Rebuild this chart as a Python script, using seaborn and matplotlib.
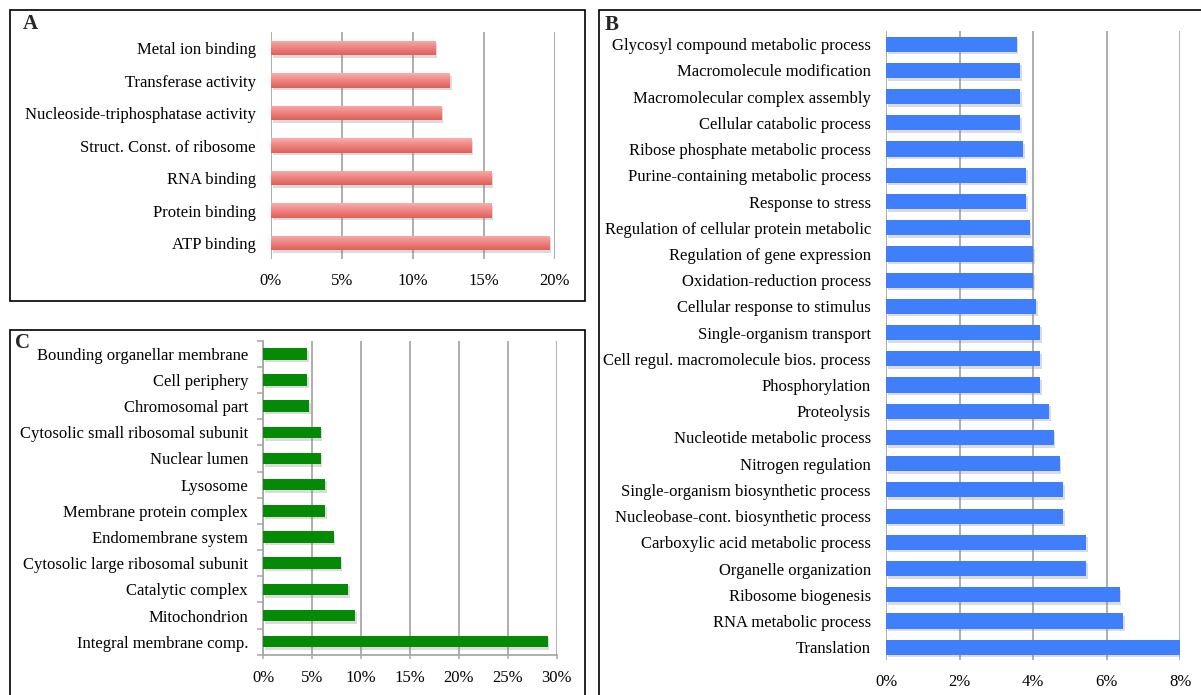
import seaborn as sns
import matplotlib.pyplot as plt
import matplotlib.patheffects as pe
import matplotlib.patches as mpatches
import numpy as np
import pandas as pd

# panel A - molecular function
a_terms = ['Metal ion binding', 'Transferase activity', 'Nucleoside-triphosphatase activity',
           'Struct. Const. of ribosome', 'RNA binding', 'Protein binding', 'ATP binding']
a_vals = [11.6, 12.6, 12.0, 14.1, 15.5, 15.5, 19.6]
a_ticks = [0, 5, 10, 15, 20]

# panel B - biological process
b_terms = ['Glycosyl compound metabolic process', 'Macromolecule modification',
           'Macromolecular complex assembly', 'Cellular catabolic process',
           'Ribose phosphate metabolic process', 'Purine-containing metabolic process',
           'Response to stress', 'Regulation of cellular protein metabolic',
           'Regulation of gene expression', 'Oxidation-reduction process',
           'Cellular response to stimulus', 'Single-organism transport',
           'Cell regul. macromolecule bios. process', 'Phosphorylation', 'Proteolysis',
           'Nucleotide metabolic process', 'Nitrogen regulation',
           'Single-organism biosynthetic process', 'Nucleobase-cont. biosynthetic process',
           'Carboxylic acid metabolic process', 'Organelle organization',
           'Ribosome biogenesis', 'RNA metabolic process', 'Translation']
b_vals = [3.55, 3.64, 3.64, 3.64, 3.72, 3.81, 3.81, 3.90, 4.0, 4.0, 4.08, 4.18,
          4.18, 4.18, 4.43, 4.55, 4.72, 4.81, 4.81, 5.44, 5.44, 6.35, 6.45, 8.0]
b_ticks = [0, 2, 4, 6, 8]

# panel C - cellular component
c_terms = ['Bounding organellar membrane', 'Cell periphery', 'Chromosomal part',
           'Cytosolic small ribosomal subunit', 'Nuclear lumen', 'Lysosome',
           'Membrane protein complex', 'Endomembrane system',
           'Cytosolic large ribosomal subunit', 'Catalytic complex', 'Mitochondrion',
           'Integral membrane comp.']
c_vals = [4.5, 4.5, 4.7, 5.85, 5.85, 6.3, 6.3, 7.2, 7.9, 8.7, 9.4, 29.05]
c_ticks = [0, 5, 10, 15, 20, 25, 30]

sns.set_theme(style="white")
plt.rcParams['font.family'] = ['Liberation Serif', 'DejaVu Serif']

W, H = 1201, 695
fig = plt.figure(figsize=(W / 100, H / 100), dpi=100)


def px_axes(x0, y0, x1, y1):
    return fig.add_axes([x0 / W, 1 - y1 / H, (x1 - x0) / W, (y1 - y0) / H])


def px_box(x0, y0, x1, y1):
    fig.patches.append(mpatches.Rectangle((x0 / W, 1 - y1 / H), (x1 - x0) / W, (y1 - y0) / H,
                                          transform=fig.transFigure, fill=False,
                                          edgecolor='black', lw=1.2, zorder=0))


shadow = [pe.SimplePatchShadow(offset=(1.2, -1.8), shadow_rgbFace='#888888', alpha=0.3), pe.Normal()]


def panel(ax, terms, vals, ticks, color, width, framed=False):
    df = pd.DataFrame({'term': terms, 'pct': vals})
    sns.barplot(data=df, x='pct', y='term', color=color, saturation=1, width=width,
                orient='h', ax=ax, zorder=3)
    for p in ax.patches:
        p.set_path_effects(shadow)
        p.set_edgecolor('none')
    ax.set_xlim(ticks[0], ticks[-1])
    ax.set_ylim(len(terms) - 0.5, -0.5)
    ax.set_xticks(ticks)
    ax.set_xticklabels([f'{t}%' for t in ticks])
    for t in ticks:
        ax.axvline(t, color='#A8A8A8', lw=1.3, zorder=1)
    ax.set_xlabel('')
    ax.set_ylabel('')
    for s in ax.spines.values():
        s.set_visible(False)
    ax.tick_params(axis='y', length=0, pad=11, labelsize=12, colors='black')
    ax.tick_params(axis='x', length=0, pad=10, labelsize=12, colors='black')
    if framed:
        ax.spines['left'].set_visible(True)
        ax.spines['bottom'].set_visible(True)
        ax.spines['left'].set_color('#A8A8A8')
        ax.spines['bottom'].set_color('#A8A8A8')
        ax.spines['left'].set_linewidth(1.3)
        ax.spines['bottom'].set_linewidth(1.3)
        ax.set_yticks(np.arange(-0.5, len(terms), 1), minor=True)
        ax.tick_params(axis='y', which='minor', left=True, length=4, width=1.1, color='#A8A8A8')
        ax.tick_params(axis='x', which='major', bottom=True, length=3, width=1.1,
                       color='#A8A8A8', pad=8)
    ax.set_facecolor('white')


# boxes
px_box(10, 9.5, 585, 301)
px_box(598.5, 10, 1215, 710)
px_box(10, 329.5, 585, 710)

axA = px_axes(271, 31.75, 555, 259.25)
panel(axA, a_terms, a_vals, a_ticks, '#EE8480', 0.45)
# soft vertical gradient on the coral bars, like the original
grad = np.linspace(0, 1, 64).reshape(-1, 1)
cmap = sns.blend_palette(['#F9AEAB', '#EE8480', '#DF5E5A'], as_cmap=True)
for p in list(axA.patches):
    x, y, w, h = p.get_x(), p.get_y(), p.get_width(), p.get_height()
    im = axA.imshow(grad, cmap=cmap, aspect='auto', extent=(x, x + w, y + h, y),
                    zorder=4, interpolation='bicubic')
    im.set_clip_path(p)
axA.set_xlim(0, 20)
axA.set_ylim(len(a_terms) - 0.5, -0.5)

axB = px_axes(886.2, 31.1, 1180.4, 660.3)
panel(axB, b_terms, b_vals, b_ticks, '#3F7FFC', 0.58)

axC = px_axes(263.3, 340.7, 556.8, 654.8)
panel(axC, c_terms, c_vals, c_ticks, '#058A05', 0.44, framed=True)

fig.text(23 / W, 1 - 24 / H, 'A', fontsize=15, fontweight='bold', va='center', ha='left')
fig.text(605 / W, 1 - 25 / H, 'B', fontsize=15, fontweight='bold', va='center', ha='left')
fig.text(15 / W, 1 - 343 / H, 'C', fontsize=15, fontweight='bold', va='center', ha='left')

fig.savefig('out.png', dpi=100)
